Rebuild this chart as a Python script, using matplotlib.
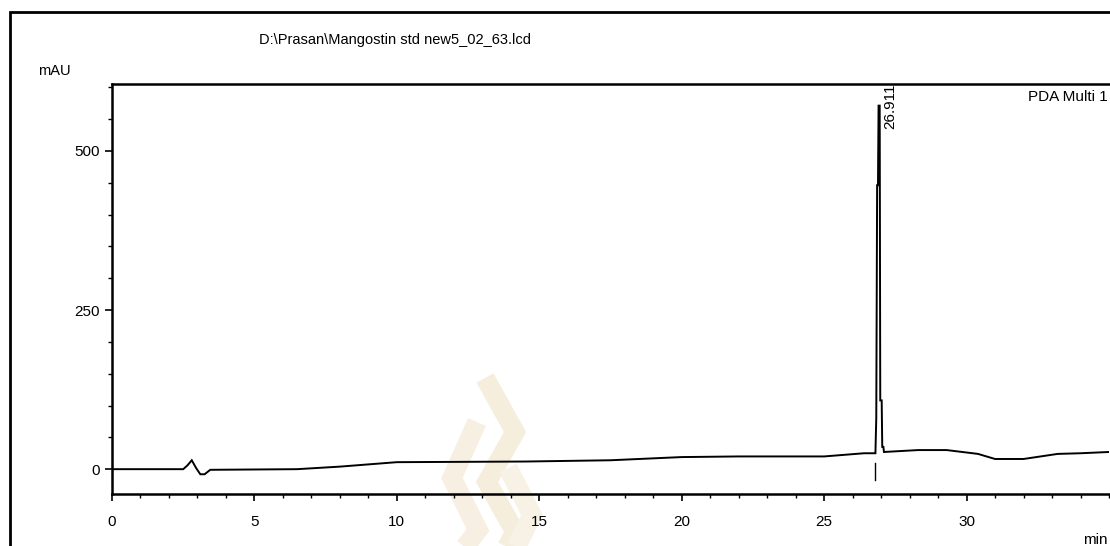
import matplotlib

matplotlib.use("Agg")
import matplotlib.pyplot as plt
from matplotlib.lines import Line2D
from matplotlib.patches import Rectangle
from matplotlib.ticker import MultipleLocator

plt.rcParams["font.family"] = ["Liberation Sans", "DejaVu Sans"]

# chromatogram trace, PDA Multi 1 channel
time_min = [0.0, 2.5, 2.65, 2.8, 2.95, 3.1, 3.25, 3.45, 6.5, 8.0, 10.0, 14.5,
            17.5, 20.0, 22.0, 25.0, 26.4, 26.80, 26.83, 26.86, 26.89, 26.911,
            26.95, 26.97, 27.02, 27.04, 27.08, 27.10, 28.3, 29.3, 30.4, 31.0,
            32.0, 33.2, 34.0, 35.0]
mau = [0.0, 0.0, 6.0, 14.0, 2.0, -8.0, -8.0, -1.0, 0.0, 4.0, 11.0, 12.0,
       14.0, 19.0, 20.0, 20.0, 25.0, 25.0, 80.0, 446.0, 446.0, 571.0,
       571.0, 108.0, 108.0, 35.0, 35.0, 27.0, 30.0, 30.0, 24.0, 16.0,
       16.0, 24.0, 25.0, 27.0]

peak_rt = 26.911
peak_height = 571.0
integration_start = 26.80

x_ticks = [0, 5, 10, 15, 20, 25, 30]
y_ticks = [0, 250, 500]

W, H = 1110, 546
fig = plt.figure(figsize=(W / 100, H / 100), dpi=100)


def px(x, y):
    return x / W, 1 - y / H


# page frame around the report block
fig.patches.append(Rectangle(px(10, 560), 1.2, (560 - 12) / H,
                             transform=fig.transFigure, fill=False,
                             edgecolor="black", linewidth=2.0))

# faint flame emblem behind the trace
strands = [
    ([485, 515, 487, 515, 500], [378, 432, 482, 532, 560], "#f6eedd"),
    ([477, 452, 478, 455], [422, 478, 530, 560], "#f7f0e2"),
    ([508, 532, 510], [468, 515, 560], "#f8f2e6"),
]
for xs, ys, col in strands:
    fx = [x / W for x in xs]
    fy = [1 - y / H for y in ys]
    fig.lines.append(Line2D(fx, fy, transform=fig.transFigure, color=col,
                            linewidth=14, solid_capstyle="butt",
                            solid_joinstyle="miter", zorder=0))

ax = fig.add_axes([112 / W, 1 - 494 / H, (1109 - 112) / W, (494 - 84) / H])
ax.patch.set_alpha(0)
ax.set_zorder(2)

ax.plot(time_min, mau, color="black", linewidth=1.4, solid_joinstyle="miter")
ax.plot([integration_start, integration_start], [10, -17], color="black", linewidth=1.0)

ax.text(peak_rt + 0.4, peak_height + 35, f"{peak_rt:.3f}", rotation=90,
        ha="center", va="top", fontsize=11)

ax.set_xlim(0, 35)
ax.set_ylim(-39, 605)
ax.set_xticks(x_ticks)
ax.set_yticks(y_ticks)
ax.xaxis.set_minor_locator(MultipleLocator(1))
ax.yaxis.set_minor_locator(MultipleLocator(50))
ax.tick_params(axis="both", which="major", direction="out", length=5, width=1.2,
               labelsize=11, pad=4)
ax.tick_params(axis="both", which="minor", direction="out", length=3, width=1.0)
ax.tick_params(axis="x", pad=10)
ax.spines["right"].set_visible(False)
for side in ("left", "bottom", "top"):
    ax.spines[side].set_linewidth(1.8)

fig.text(*px(395, 40), r"D:\Prasan\Mangostin std new5_02_63.lcd",
         ha="center", va="center", fontsize=10.5)
fig.text(*px(38, 71), "mAU", ha="left", va="center", fontsize=10.5)
fig.text(*px(1108, 97), "PDA Multi 1", ha="right", va="center", fontsize=11)
fig.text(*px(1108, 540), "min", ha="right", va="center", fontsize=11)

fig.savefig("out.png", dpi=100)
